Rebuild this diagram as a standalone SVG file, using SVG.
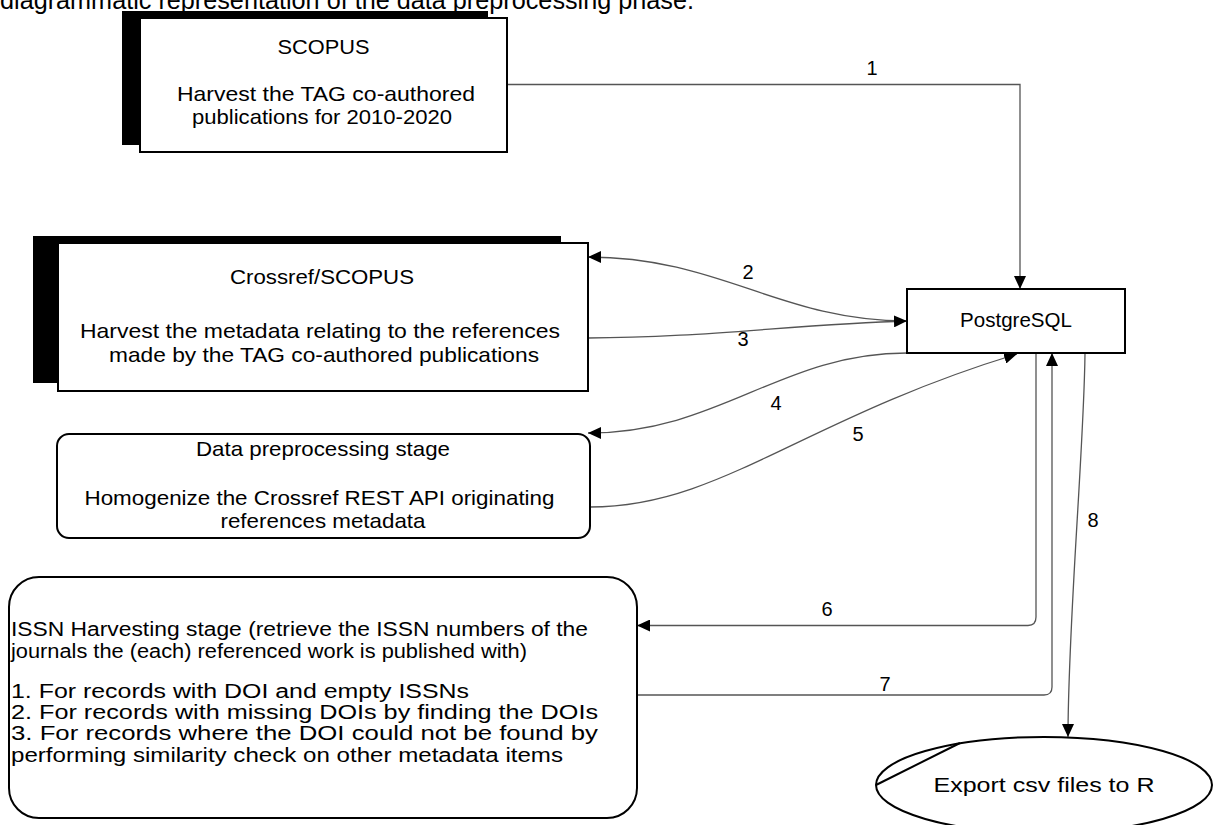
<svg xmlns="http://www.w3.org/2000/svg" width="1218" height="825" viewBox="0 0 1218 825">
<style>
text{font-family:"Liberation Sans",Arial,sans-serif;fill:#000}
.t{font-size:21px}
.s{font-size:20px}
.c{text-anchor:middle}
.lbl{font-size:20px;text-anchor:middle}
.box{fill:#fff;stroke:#000;stroke-width:2}
.sh{fill:#000}
.con{fill:none;stroke:#555;stroke-width:1.3}
</style>
<defs>
<marker id="ah" markerUnits="userSpaceOnUse" markerWidth="14" markerHeight="12" refX="13" refY="6" orient="auto">
<path d="M0,0 L13,6 L0,12 Z" fill="#000"/>
</marker>
</defs>
<rect width="1218" height="825" fill="#fff"/>
<text x="0" y="9" style="font-size:25px" textLength="694" lengthAdjust="spacingAndGlyphs">diagrammatic representation of the data preprocessing phase.</text>

<g id="connectors">
<path class="con" d="M507,84.5 H1020 V289" marker-end="url(#ah)"/>
<text class="lbl" x="872" y="75">1</text>
<path class="con" d="M907,321 C780,321 720,257 588,257" marker-end="url(#ah)"/>
<text class="lbl" x="748" y="279">2</text>
<path class="con" d="M588,338 C700,338 800,324 907,321" marker-end="url(#ah)"/>
<text class="lbl" x="743" y="346">3</text>
<path class="con" d="M907,353 C780,353 720,433 588,433" marker-end="url(#ah)"/>
<text class="lbl" x="776" y="410">4</text>
<path class="con" d="M590,507 C720,507 800,420 1017,354" marker-end="url(#ah)"/>
<text class="lbl" x="858" y="441">5</text>
<path class="con" d="M1036,353 V617 Q1036,625.5 1028,625.5 H637" marker-end="url(#ah)"/>
<text class="lbl" x="827" y="616">6</text>
<path class="con" d="M637,695 H1044 Q1052,695 1052,687 V353" marker-end="url(#ah)"/>
<text class="lbl" x="885" y="691">7</text>
<path class="con" d="M1085,353 C1084,450 1068,620 1068,737" marker-end="url(#ah)"/>
<text class="lbl" x="1093" y="527">8</text>
</g>

<g id="scopus">
<rect class="sh" x="122" y="11" width="366" height="134"/>
<rect class="box" x="140" y="18" width="367" height="134"/>
<text class="t c" x="323.5" y="54" textLength="92" lengthAdjust="spacingAndGlyphs">SCOPUS</text>
<text class="t c" x="326" y="101" textLength="298" lengthAdjust="spacingAndGlyphs">Harvest  the TAG co-authored</text>
<text class="t c" x="322" y="124" textLength="260" lengthAdjust="spacingAndGlyphs">publications for 2010-2020</text>
</g>

<g id="crossref">
<rect class="sh" x="33" y="236" width="528" height="147"/>
<rect class="box" x="58" y="243" width="530" height="148"/>
<text class="t c" x="322" y="284" textLength="184" lengthAdjust="spacingAndGlyphs">Crossref/SCOPUS</text>
<text class="t c" x="320" y="338" textLength="480" lengthAdjust="spacingAndGlyphs">Harvest  the  metadata relating to the references</text>
<text class="t c" x="324" y="362" textLength="430" lengthAdjust="spacingAndGlyphs">made by the TAG co-authored  publications</text>
</g>

<g id="postgresql">
<rect class="box" x="907" y="289" width="218" height="64"/>
<text class="t" x="960" y="327" textLength="112" lengthAdjust="spacingAndGlyphs">PostgreSQL</text>
</g>

<g id="preprocessing">
<rect class="box" x="57" y="434" width="533" height="104" rx="12"/>
<text class="t c" x="323" y="456" textLength="254" lengthAdjust="spacingAndGlyphs">Data preprocessing stage</text>
<text class="t c" x="319.5" y="505" textLength="470" lengthAdjust="spacingAndGlyphs">Homogenize the Crossref REST API originating</text>
<text class="t c" x="323" y="528" textLength="205" lengthAdjust="spacingAndGlyphs">references metadata</text>
</g>

<g id="issn">
<rect class="box" x="9" y="577" width="628" height="241" rx="30"/>
<text class="s" x="11" y="636" textLength="577" lengthAdjust="spacingAndGlyphs">ISSN Harvesting  stage (retrieve the ISSN numbers of the</text>
<text class="s" x="11" y="658" textLength="516" lengthAdjust="spacingAndGlyphs">journals the (each) referenced work is published with)</text>
<text class="s" x="11" y="698" textLength="458" lengthAdjust="spacingAndGlyphs">1.  For  records  with  DOI  and  empty  ISSNs</text>
<text class="s" x="11" y="719" textLength="587" lengthAdjust="spacingAndGlyphs">2.  For  records  with  missing DOIs  by  finding  the  DOIs</text>
<text class="s" x="11" y="740" textLength="587" lengthAdjust="spacingAndGlyphs">3.  For  records  where  the  DOI  could  not  be  found  by</text>
<text class="s" x="11" y="762" textLength="552" lengthAdjust="spacingAndGlyphs">performing  similarity  check  on  other  metadata  items</text>
</g>

<g id="export">
<ellipse class="box" cx="1044" cy="785" rx="168" ry="48"/>
<path d="M876,785 L960,743" fill="none" stroke="#000" stroke-width="2"/>
<text class="t c" x="1044" y="792" textLength="221" lengthAdjust="spacingAndGlyphs">Export  csv  files  to  R</text>
</g>
</svg>
